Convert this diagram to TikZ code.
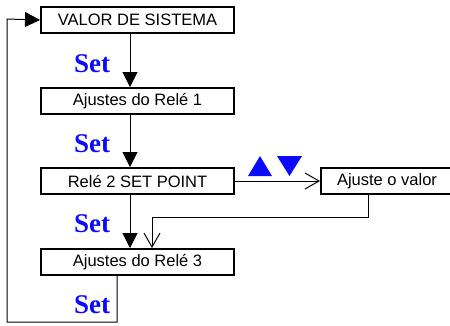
\documentclass[tikz,border=0pt]{standalone}
\usepackage{fontspec}
\setmainfont{Liberation Sans}
\newfontfamily\setfont{Liberation Serif}
\usetikzlibrary{arrows.meta}
\definecolor{setblue}{RGB}{10,10,255}
\begin{document}
\begin{tikzpicture}[x=1pt,y=-1pt,
  box/.style={draw,line width=2pt,minimum height=26pt,inner sep=0pt,font=\fontsize{16.5}{18}\selectfont},
  conn/.style={line width=1pt},
  fillarr/.style={conn,-{Triangle[length=15pt,width=15pt]}},
  openarr/.style={conn,-{Straight Barb[length=14pt,width=16pt,line width=1pt]}},
  setlbl/.style={text=setblue,font=\setfont\bfseries\fontsize{27}{30}\selectfont,inner sep=0pt,anchor=base}]
\useasboundingbox (0,0) rectangle (450,325);
\node[box,minimum width=193pt,anchor=north west] (b1) at (40,6) {VALOR DE SISTEMA};
\node[box,minimum width=193pt,anchor=north west] (b2) at (40,87) {Ajustes do Relé 1};
\node[box,minimum width=193pt,anchor=north west] (b3) at (40,167) {Relé 2 SET POINT};
\node[box,minimum width=193pt,anchor=north west] (b4) at (40,248) {Ajustes do Relé 3};
\node[box,minimum width=132pt,anchor=north west] (b5) at (320,167) {Ajuste o valor};
\node[setlbl] (s1) at (92,72) {Set};
\node[setlbl] (s2) at (92,152) {Set};
\node[setlbl] (s3) at (92,232) {Set};
\node[setlbl] (s4) at (92,313) {Set};
\draw[fillarr] (b1.south -| 130,0) -- (b2.north -| 130,0);
\draw[fillarr] (b2.south -| 130,0) -- (b3.north -| 130,0);
\draw[fillarr] (b3.south -| 130,0) -- (b4.north -| 130,0);
\draw[openarr] (b3.east) -- (b5.west);
\coordinate (c1) at (368,217);
\coordinate (c2) at (152,217);
\draw[openarr] (b5.south -| c1) -- (c1) -- (c2) -- (b4.north -| c2);
\coordinate (l1) at (117,322);
\coordinate (l2) at (7,322);
\coordinate (l3) at (7,19);
\draw[fillarr] (b4.south -| l1) -- (l1) -- (l2) -- (l3) -- (b1.west);
\fill[setblue] (248,176) -- (260,156) -- (272,176) -- cycle;
\fill[setblue] (277,156) -- (302,156) -- (289.5,176) -- cycle;
\end{tikzpicture}
\end{document}
